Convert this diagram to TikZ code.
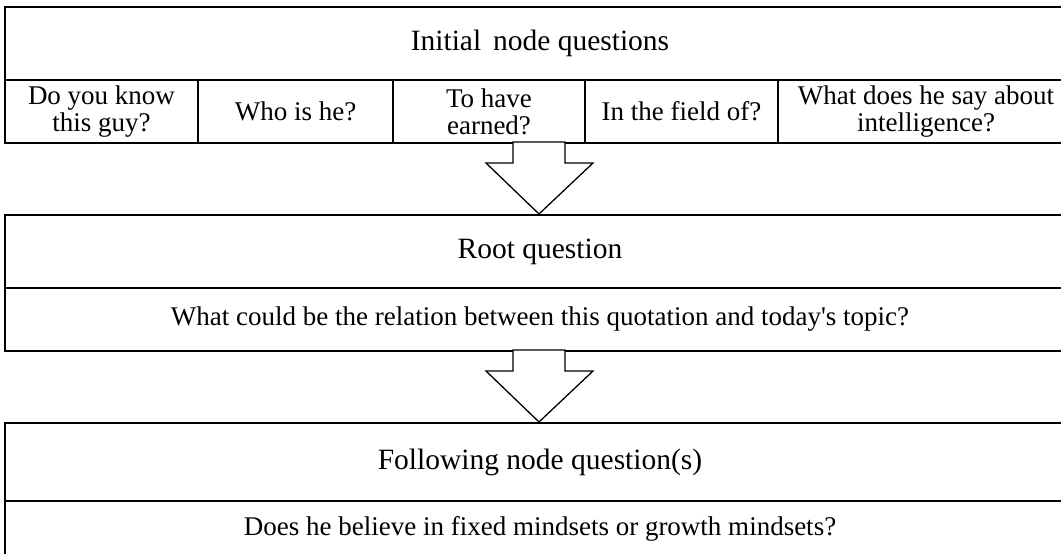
\documentclass[tikz,border=0pt]{standalone}
\usepackage{fontspec}
\setmainfont{Liberation Serif}

\begin{document}
\begin{tikzpicture}[x=1pt,y=-1pt,font=\fontsize{27}{27}\selectfont,
  box/.style={draw,line width=2pt,inner sep=0pt,anchor=north west,align=center},
  head/.style={box,font=\fontsize{29.5}{30}\selectfont},
  bigarrow/.style={draw,line width=1.3pt,line join=miter,fill=white}]
\useasboundingbox (0,0) rectangle (1061,554);

% initial node questions
\node[head,minimum width=1070pt,minimum height=73pt] (init) at (4,6) {Initial\hspace{0.15em} node questions};
\node[box,minimum width=193pt,minimum height=63pt] (c1) at (4,79) {Do you know\\this guy?};
\node[box,minimum width=195pt,minimum height=63pt] (c2) at (197,79) {Who is he?};
\node[box,minimum width=192pt,minimum height=63pt] (c3) at (392,79) {To have\\earned?};
\node[box,minimum width=193pt,minimum height=63pt] (c4) at (584,79) {In the field of?};
\node[box,minimum width=296pt,minimum height=63pt] (c5) at (777,79) {What does he say about\\intelligence?};

% root question
\node[head,minimum width=1070pt,minimum height=73pt] (root) at (4,214) {Root question};
\node[box,minimum width=1070pt,minimum height=63pt] (rootq) at (4,287) {What could be the relation between this quotation and today\textquotesingle s topic?};

% following node question(s)
\node[head,minimum width=1070pt,minimum height=78pt] (follow) at (4,422) {Following node question(s)};
\node[box,minimum width=1070pt,minimum height=56pt] (followq) at (4,500) {Does he believe in fixed mindsets or growth mindsets?};

% big arrows
\coordinate (tip1) at (539,214);
\coordinate (tip2) at (539,422);
\draw[bigarrow] (tip1) -- ++(-53,-51) -- ++(27,0) -- ++(0,-21) -- ++(52,0) -- ++(0,21) -- ++(28,0) -- cycle;
\draw[bigarrow] (tip2) -- ++(-53,-51) -- ++(27,0) -- ++(0,-21) -- ++(52,0) -- ++(0,21) -- ++(28,0) -- cycle;

\end{tikzpicture}
\end{document}
